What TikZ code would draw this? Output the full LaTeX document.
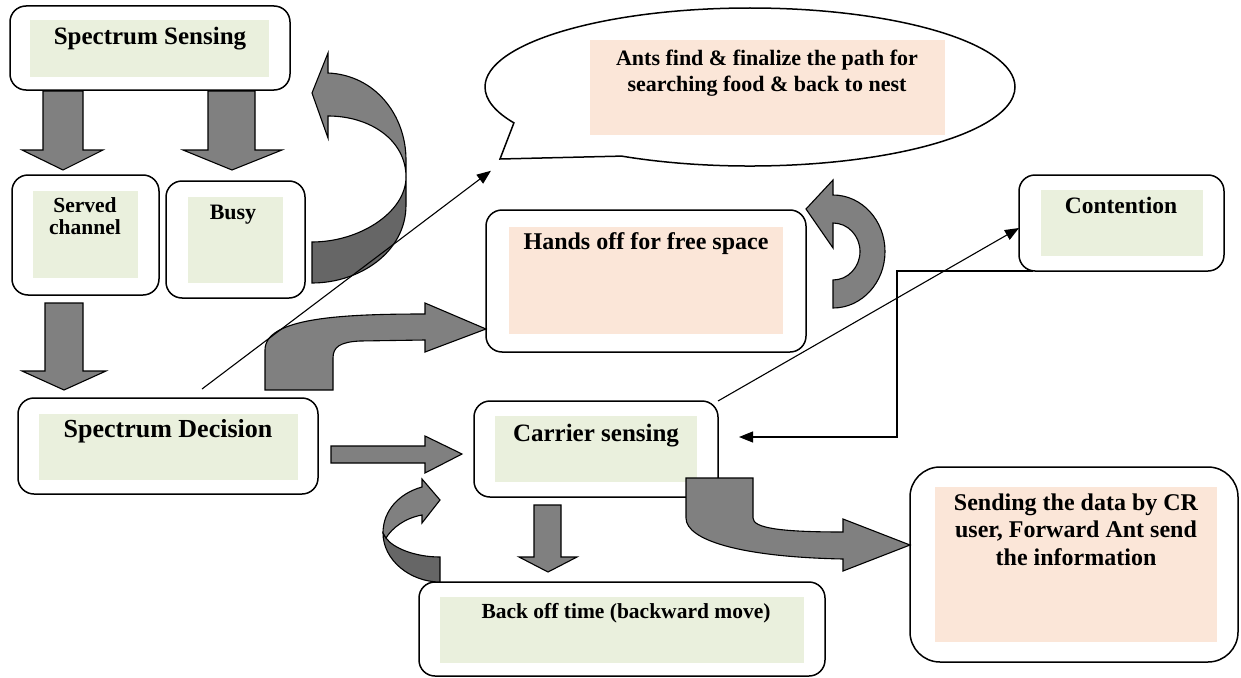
\documentclass[tikz,border=0pt]{standalone}
\usepackage{fontspec}
\setmainfont{Liberation Serif}
\usetikzlibrary{arrows.meta,calc,shapes.callouts}
\definecolor{gfill}{HTML}{EAF0DD}
\definecolor{pfill}{HTML}{FBE6D8}
\definecolor{arr}{HTML}{808080}
\definecolor{arrd}{HTML}{666666}
\newcommand{\myfs}[1]{\fontsize{#1}{#1}\selectfont\bfseries}
\begin{document}
\begin{tikzpicture}[x=1pt,y=-1pt,
  box/.style={draw, line width=1.5pt, rounded corners=16pt, fill=white, inner sep=0pt, outer sep=0pt},
  blk/.style={draw, line width=1.1pt, fill=arr, line join=miter},
  blkd/.style={draw, line width=1.1pt, fill=arrd, line join=miter},
  conn/.style={line width=1.1pt},
  tipa/.style={-{Triangle[length=14pt,width=11pt]}},
  lbl/.style={inner sep=0pt, anchor=base},
]
\useasboundingbox (0,0) rectangle (1241,677);

% callout ellipse
\node[ellipse callout, draw, line width=1.5pt, fill=white, minimum width=530pt, minimum height=158pt,
      inner sep=0pt, callout absolute pointer={(500,159)}, callout pointer arc=34] (ants) at (750,87) {};
\fill[pfill] (590,40) rectangle (945,135);

% boxes
\node[box, minimum width=280pt, minimum height=84pt] (ss) at (150,48) {};
\node[box, minimum width=147pt, minimum height=120pt] (sc) at (85.5,235) {};
\node[box, minimum width=139pt, minimum height=117pt] (busy) at (235.5,239.5) {};
\node[box, minimum width=300pt, minimum height=96pt] (sd) at (168,446) {};
\node[box, minimum width=320pt, minimum height=142pt] (ho) at (646,281) {};
\node[box, minimum width=205pt, minimum height=96pt] (ct) at (1121.5,223) {};
\node[box, minimum width=244pt, minimum height=96pt] (cs) at (596,449) {};
\node[box, minimum width=406pt, minimum height=94pt] (bo) at (622,629) {};
\node[box, rounded corners=30pt, minimum width=328pt, minimum height=195pt] (snd) at (1074,564.5) {};

% inner fills
\fill[gfill] (30,20) rectangle (269,77);
\fill[gfill] (33,191) rectangle (138,278);
\fill[gfill] (188,197) rectangle (283,283);
\fill[gfill] (39,414) rectangle (298,480);
\fill[pfill] (509,227) rectangle (783,334);
\fill[gfill] (1041,190) rectangle (1203,256);
\fill[gfill] (495,416) rectangle (697,482);
\fill[gfill] (440,597) rectangle (804,663);
\fill[pfill] (935,487) rectangle (1217,642);

% texts
\node[lbl, font=\myfs{22}] (ta1) at (767,65) {Ants find \& finalize the path for};
\node[lbl, font=\myfs{22}] (ta2) at (767,92) {searching food \& back to nest};
\node[lbl, font=\myfs{25}] (tss) at (150,45) {Spectrum Sensing};
\node[lbl, font=\myfs{21.5}] (tsc1) at (85,212) {Served};
\node[lbl, font=\myfs{21.5}] (tsc2) at (85,234) {channel};
\node[lbl, font=\myfs{22}] (tbusy) at (233,219) {Busy};
\node[lbl, font=\myfs{26}] (tsd) at (168,437) {Spectrum Decision};
\node[lbl, font=\myfs{24}] (tho) at (646,249) {Hands off for free space};
\node[lbl, font=\myfs{23.5}] (tct) at (1121,213) {Contention};
\node[lbl, font=\myfs{25}] (tcs) at (596,441) {Carrier sensing};
\node[lbl, font=\myfs{21.5}] (tbo) at (626,618) {Back off time (backward move)};
\node[lbl, font=\myfs{24}] (ts1) at (1076,510) {Sending the data by CR};
\node[lbl, font=\myfs{24}] (ts2) at (1076,537.5) {user, Forward Ant send};
\node[lbl, font=\myfs{24}] (ts3) at (1076,565) {the information};

% straight block arrows
\draw[blk] (43,91) -- (83,91) -- (83,150) -- (103,150) -- (63,170) -- (22,150) -- (43,150) -- cycle;
\draw[blk] (208,91) -- (255,91) -- (255,150) -- (282,150) -- (232,170) -- (183,150) -- (208,150) -- cycle;
\draw[blk] (45,303) -- (83,303) -- (83,371) -- (106,371) -- (64,390) -- (22,371) -- (45,371) -- cycle;
\draw[blk] (331,446) -- (425,446) -- (425,436) -- (462,454) -- (425,473) -- (425,463) -- (331,463) -- cycle;
\draw[blk] (534,505) -- (561,505) -- (561,557) -- (577,557) -- (548,572) -- (519,557) -- (534,557) -- cycle;

% curved arrow busy -> spectrum sensing
\draw[blkd] (406,177) -- (406,205) .. controls (406,252) and (360,283) .. (312,283) -- (312,242) .. controls (360,242) and (406,212) .. (406,177) -- cycle;
\draw[blk] (328,73) .. controls (375,75) and (406,115) .. (406,160) -- (406,177) .. controls (406,140) and (370,116) .. (328,116) -- (328,138) -- (312,93) -- (328,53) -- cycle;

% curved arrow decision -> hands off
\draw[blk] (265,390) -- (265,350) .. controls (265,318) and (340,314) .. (425,314) -- (425,303) -- (486,329) -- (425,352) -- (425,340) -- (360,341) .. controls (340,342) and (333,347) .. (333,358) -- (333,390) -- cycle;

% U arrow right of hands off
\draw[blk] (833,195) .. controls (861.7,195) and (885,220.3) .. (885,251.5) .. controls (885,282.7) and (861.7,308) .. (833,308) -- (833,280) .. controls (847.9,280) and (860,267.2) .. (860,251.5) .. controls (860,235.8) and (847.9,223) .. (833,223) -- (833,248) -- (806,209) -- (833,180) -- cycle;

% small curved arrow back off -> carrier
\draw[blkd] (383,533) .. controls (383,560) and (410,582) .. (440,582) -- (440,557) .. controls (415,557) and (393,548) .. (386,538) -- cycle;
\draw[blk] (422,487) .. controls (400,493) and (383,510) .. (383,533) -- (386,538) .. controls (392,528) and (405,518) .. (422,515) -- (422,523) -- (440,500) -- (422,479) -- cycle;

% curved arrow carrier -> sending
\draw[blk] (686,478) -- (753,478) -- (753,518) .. controls (753,528) and (780,532) .. (843,532) -- (843,519) -- (910,545) -- (843,571) -- (843,559) .. controls (740,557) and (686,540) .. (686,518) -- cycle;

% thin connectors
\coordinate (c1s) at ($(sd.north west)+(184,-9)$);
\coordinate (c1e) at ($(ants.pointer)+(-8,11)$);
\draw[conn, tipa] (c1s) -- (c1e);
\draw[conn, tipa] (cs.north east) -- ($(ct.west)+(0,5)$);
\coordinate (elb) at (897,271);
\draw[conn, tipa] ($(ct.south west)+(14,0)$) -- (elb) |- ($(cs.east)+(21,-12)$);
\end{tikzpicture}
\end{document}
